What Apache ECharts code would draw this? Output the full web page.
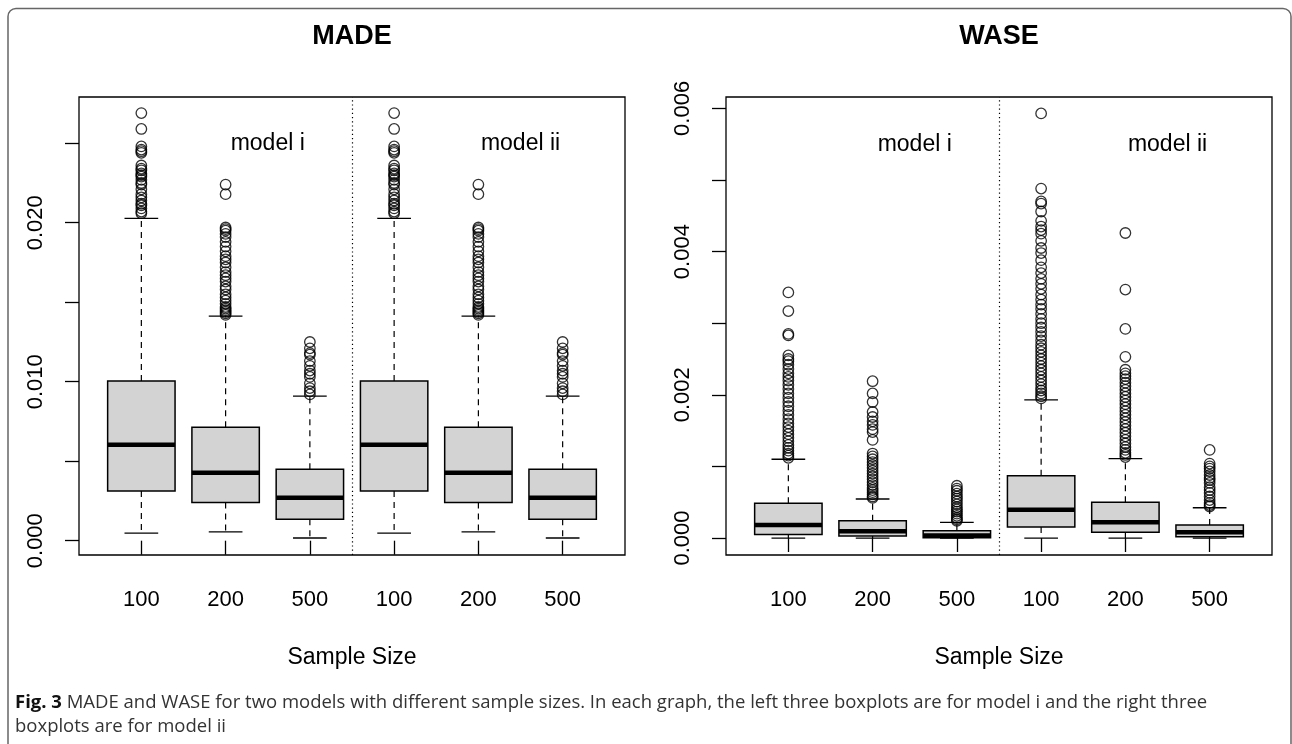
<!DOCTYPE html>
<html>
<head>
<meta charset="utf-8">
<script src="https://cdn.jsdelivr.net/npm/echarts@6/dist/echarts.min.js"></script>
<style>
html,body{margin:0;padding:0;background:#fff;}
#chart{width:1292px;height:744px;}
</style>
</head>
<body>
<div id="chart"></div>
<script>
// ---------- data ----------
const sampleSizes = ['100', '200', '500'];
const modelNames = ['model i', 'model ii'];
const panelTitles = ['MADE', 'WASE'];
const xAxisTitle = 'Sample Size';

const madeTicks = [0, 0.005, 0.010, 0.015, 0.020, 0.025];
const madeTickLabels = [0, 0.010, 0.020];
const waseTicks = [0, 0.001, 0.002, 0.003, 0.004, 0.005, 0.006];
const waseTickLabels = [0, 0.002, 0.004, 0.006];

// box stats: [lower whisker, Q1, median, Q3, upper whisker] for n = 100, 200, 500
const madeBoxModelI = [
  [0.00047, 0.00313, 0.00604, 0.01004, 0.02028],
  [0.00055, 0.00241, 0.00428, 0.00713, 0.01413],
  [0.00017, 0.00135, 0.00270, 0.00449, 0.00910]
];
const madeBoxModelII = [
  [0.00047, 0.00313, 0.00604, 0.01004, 0.02028],
  [0.00055, 0.00241, 0.00428, 0.00713, 0.01413],
  [0.00017, 0.00135, 0.00270, 0.00449, 0.00910]
];
const madeOutModelI = [
  [0.0269, 0.0259, 0.0248, 0.0246, 0.0245, 0.0244, 0.0236, 0.0234, 0.0233, 0.0231, 0.0230, 0.0229, 0.0227, 0.0225, 0.0224, 0.0221, 0.0218, 0.0216, 0.0214, 0.0212, 0.0211, 0.0209, 0.0207, 0.0206],
  [0.0224, 0.0218, 0.0197, 0.0196, 0.0195, 0.0193, 0.0191, 0.0188, 0.0185, 0.0182, 0.0179, 0.0177, 0.0175, 0.0172, 0.0169, 0.0167, 0.0165, 0.0163, 0.0160, 0.0158, 0.0155, 0.0153, 0.0151, 0.0149, 0.0147, 0.0146, 0.0145, 0.0144, 0.0143, 0.0142],
  [0.0125, 0.0121, 0.0118, 0.0117, 0.0113, 0.0110, 0.0107, 0.0105, 0.0103, 0.0099, 0.0096, 0.0094, 0.0092]
];
const madeOutModelII = [
  [0.0269, 0.0259, 0.0248, 0.0246, 0.0245, 0.0244, 0.0236, 0.0234, 0.0233, 0.0231, 0.0230, 0.0229, 0.0227, 0.0225, 0.0224, 0.0221, 0.0218, 0.0216, 0.0214, 0.0212, 0.0211, 0.0209, 0.0207, 0.0206],
  [0.0224, 0.0218, 0.0197, 0.0196, 0.0195, 0.0193, 0.0191, 0.0188, 0.0185, 0.0182, 0.0179, 0.0177, 0.0175, 0.0172, 0.0169, 0.0167, 0.0165, 0.0163, 0.0160, 0.0158, 0.0155, 0.0153, 0.0151, 0.0149, 0.0147, 0.0146, 0.0145, 0.0144, 0.0143, 0.0142],
  [0.0125, 0.0121, 0.0118, 0.0117, 0.0113, 0.0110, 0.0107, 0.0105, 0.0103, 0.0099, 0.0096, 0.0094, 0.0092]
];

const waseBoxModelI = [
  [0, 0.000051, 0.000182, 0.000484, 0.00110],
  [0, 0.000028, 0.000093, 0.000242, 0.000545],
  [0, 0.000004, 0.000037, 0.000100, 0.000220]
];
const waseBoxModelII = [
  [0, 0.000154, 0.000396, 0.000870, 0.00193],
  [0, 0.000080, 0.000219, 0.000498, 0.00111],
  [0, 0.000019, 0.000080, 0.000182, 0.000423]
];
const waseOutModelI = [
  [0.00343, 0.00317, 0.00285, 0.00283, 0.00255, 0.00250, 0.00247, 0.00242, 0.00236, 0.00230, 0.00225, 0.00220, 0.00214, 0.00208, 0.00202, 0.00196, 0.00190, 0.00184, 0.00178, 0.00172, 0.00166, 0.00160, 0.00155, 0.00150, 0.00145, 0.00140, 0.00135, 0.00130, 0.00126, 0.00122, 0.00118, 0.00115, 0.00112],
  [0.00219, 0.00202, 0.00190, 0.00176, 0.00169, 0.00163, 0.00158, 0.00152, 0.00148, 0.00137, 0.00118, 0.00114, 0.00110, 0.00106, 0.00102, 0.00098, 0.00094, 0.00090, 0.00086, 0.00082, 0.00078, 0.00074, 0.00070, 0.00067, 0.00064, 0.00061, 0.00058, 0.00056],
  [0.00073, 0.00069, 0.00066, 0.00062, 0.00058, 0.00055, 0.00051, 0.00047, 0.00043, 0.00040, 0.00037, 0.00034, 0.00031, 0.00028, 0.00026, 0.00024]
];
const waseOutModelII = [
  [0.00593, 0.00488, 0.00470, 0.00467, 0.00456, 0.00443, 0.00435, 0.00430, 0.00425, 0.00415, 0.00405, 0.00398, 0.00388, 0.00378, 0.00370, 0.00362, 0.00355, 0.00348, 0.00340, 0.00333, 0.00326, 0.00320, 0.00313, 0.00306, 0.00300, 0.00294, 0.00288, 0.00282, 0.00276, 0.00270, 0.00265, 0.00260, 0.00255, 0.00250, 0.00245, 0.00240, 0.00235, 0.00230, 0.00225, 0.00220, 0.00215, 0.00210, 0.00206, 0.00202, 0.00198, 0.00195],
  [0.00426, 0.00347, 0.00292, 0.00253, 0.00235, 0.00230, 0.00226, 0.00222, 0.00217, 0.00212, 0.00207, 0.00202, 0.00197, 0.00192, 0.00187, 0.00182, 0.00177, 0.00172, 0.00167, 0.00162, 0.00157, 0.00152, 0.00147, 0.00142, 0.00137, 0.00132, 0.00127, 0.00123, 0.00119, 0.00116, 0.00113],
  [0.00123, 0.00104, 0.00100, 0.00097, 0.00093, 0.00088, 0.00084, 0.00081, 0.00077, 0.00071, 0.00067, 0.00063, 0.00058, 0.00053, 0.00049, 0.00046, 0.00044]
];

const captionBold = 'Fig. 3';
const captionLine1 = ' MADE and WASE for two models with different sample sizes. In each graph, the left three boxplots are for model i and the right three';
const captionLine2 = 'boxplots are for model ii';

// ---------- build ----------
const FONT = '"Liberation Sans", Arial, Helvetica, sans-serif';
const CAP_FONT = '"Open Sans", "Noto Sans", sans-serif';

function boxRows(modelI, modelII) {
  const rows = [];
  modelI.forEach((s, i) => rows.push([i + 1].concat(s)));
  modelII.forEach((s, i) => rows.push([i + 4].concat(s)));
  return rows;
}
function outRows(modelI, modelII) {
  const rows = [];
  modelI.forEach((arr, i) => arr.forEach(v => rows.push([i + 1, v])));
  modelII.forEach((arr, i) => arr.forEach(v => rows.push([i + 4, v])));
  return rows;
}

function renderBox(params, api) {
  const x = api.value(0);
  const lo = api.coord([x, api.value(1)]);
  const q1 = api.coord([x, api.value(2)]);
  const md = api.coord([x, api.value(3)]);
  const q3 = api.coord([x, api.value(4)]);
  const hi = api.coord([x, api.value(5)]);
  const halfBox = api.size([0.4, 0])[0];
  const halfCap = api.size([0.2, 0])[0];
  const cx = q1[0];
  const dashStyle = { stroke: '#000', lineWidth: 1.2, lineDash: [6, 5], fill: null };
  const solid = { stroke: '#000', lineWidth: 1.3, fill: null };
  return {
    type: 'group',
    children: [
      { type: 'line', shape: { x1: cx, y1: q3[1], x2: cx, y2: hi[1] }, style: dashStyle },
      { type: 'line', shape: { x1: cx, y1: q1[1], x2: cx, y2: lo[1] }, style: dashStyle },
      { type: 'line', shape: { x1: cx - halfCap, y1: hi[1], x2: cx + halfCap, y2: hi[1] }, style: solid },
      { type: 'line', shape: { x1: cx - halfCap, y1: lo[1], x2: cx + halfCap, y2: lo[1] }, style: solid },
      { type: 'rect', shape: { x: cx - halfBox, y: q3[1], width: 2 * halfBox, height: q1[1] - q3[1] },
        style: { fill: '#d3d3d3', stroke: '#000', lineWidth: 1.5 } },
      { type: 'line', shape: { x1: cx - halfBox, y1: md[1], x2: cx + halfBox, y2: md[1] },
        style: { stroke: '#000', lineWidth: 4.5 } }
    ]
  };
}

function makeXAxis(gridIndex) {
  return {
    type: 'value', gridIndex: gridIndex, min: 0.26, max: 6.74,
    splitLine: { show: false }, axisLine: { show: false },
    axisTick: { show: true, length: 14, customValues: [1, 2, 3, 4, 5, 6], lineStyle: { color: '#000', width: 1.3 } },
    axisLabel: {
      customValues: [1, 2, 3, 4, 5, 6], margin: 34, color: '#000', fontSize: 22, fontFamily: FONT,
      formatter: v => sampleSizes[(Math.round(v) - 1) % 3]
    },
    name: xAxisTitle, nameLocation: 'middle', nameGap: 91,
    nameTextStyle: { color: '#000', fontSize: 23, fontFamily: FONT }
  };
}
function makeYAxis(gridIndex, min, max, ticks, labels) {
  return {
    type: 'value', gridIndex: gridIndex, min: min, max: max,
    splitLine: { show: false }, axisLine: { show: false },
    axisTick: { show: true, length: 14, customValues: ticks, lineStyle: { color: '#000', width: 1.3 } },
    axisLabel: {
      customValues: labels, rotate: 90, margin: 32, color: '#000', fontSize: 22, fontFamily: FONT,
      formatter: v => v.toFixed(3)
    }
  };
}

const gridBase = { top: 97, height: 458, width: 546, show: true, borderColor: '#000', borderWidth: 1.3, backgroundColor: 'transparent' };

function panelSeries(idx, boxes, outs, labelY) {
  return [
    {
      type: 'custom', xAxisIndex: idx, yAxisIndex: idx, renderItem: renderBox,
      encode: { x: 0, y: [1, 2, 3, 4, 5] }, data: boxes, silent: true, z: 2,
      markLine: {
        silent: true, symbol: 'none', label: { show: false },
        lineStyle: { type: [1.2, 3], color: '#000', width: 1.2 },
        data: [{ xAxis: 3.5 }]
      }
    },
    {
      type: 'scatter', xAxisIndex: idx, yAxisIndex: idx, data: outs, silent: true, z: 3,
      symbol: 'circle', symbolSize: 10.5,
      itemStyle: { color: 'transparent', borderColor: '#000', borderWidth: 1.3 }
    },
    {
      type: 'scatter', xAxisIndex: idx, yAxisIndex: idx, silent: true, z: 4,
      symbolSize: 1, itemStyle: { color: 'transparent' },
      data: [
        { value: [2.5, labelY], name: modelNames[0] },
        { value: [5.5, labelY], name: modelNames[1] }
      ],
      label: {
        show: true, position: 'inside', formatter: p => p.name,
        color: '#000', opacity: 1, textBorderWidth: 0, fontSize: 23, fontFamily: FONT
      }
    }
  ];
}

const option = {
  animation: false,
  backgroundColor: '#fff',
  grid: [
    Object.assign({ left: 79 }, gridBase),
    Object.assign({ left: 726 }, gridBase)
  ],
  xAxis: [makeXAxis(0), makeXAxis(1)],
  yAxis: [
    makeYAxis(0, -0.0009, 0.02791, madeTicks, madeTickLabels),
    makeYAxis(1, -0.000237, 0.006159, waseTicks, waseTickLabels)
  ],
  series: [].concat(
    panelSeries(0, boxRows(madeBoxModelI, madeBoxModelII), outRows(madeOutModelI, madeOutModelII), 0.025),
    panelSeries(1, boxRows(waseBoxModelI, waseBoxModelII), outRows(waseOutModelI, waseOutModelII), 0.0055)
  ),
  graphic: [
    { type: 'rect', shape: { x: 8, y: 8.5, width: 1283, height: 800, r: 8 }, style: { fill: null, stroke: '#666', lineWidth: 1.5 }, silent: true, z: -1 },
    { type: 'text', x: 352, y: 37, style: { text: panelTitles[0], font: 'bold 27px ' + FONT, fill: '#000', align: 'center', verticalAlign: 'middle' } },
    { type: 'text', x: 999, y: 37, style: { text: panelTitles[1], font: 'bold 27px ' + FONT, fill: '#000', align: 'center', verticalAlign: 'middle' } },
    { type: 'text', x: 15, y: 691, style: {
        text: '{b|' + captionBold + '}' + captionLine1 + '\n' + captionLine2,
        font: '18.5px ' + CAP_FONT, fill: '#333', lineHeight: 24, align: 'left', verticalAlign: 'top',
        rich: { b: { font: 'bold 18.5px ' + CAP_FONT, fill: '#111', lineHeight: 24 } }
      } }
  ]
};

const chart = echarts.init(document.getElementById('chart'), null, { renderer: 'canvas' });
chart.setOption(option);
</script>
</body>
</html>
